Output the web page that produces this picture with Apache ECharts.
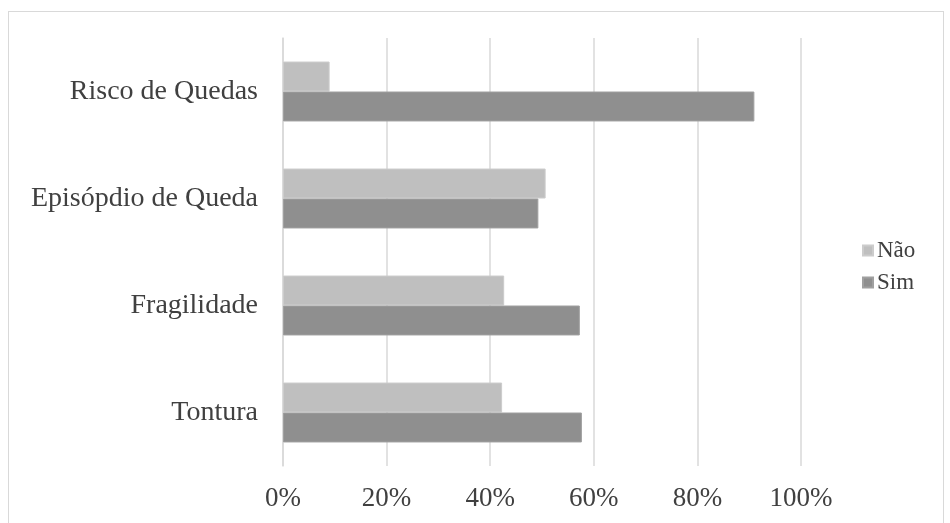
<!DOCTYPE html>
<html>
<head>
<meta charset="utf-8">
<script src="https://cdn.jsdelivr.net/npm/echarts@6/dist/echarts.min.js"></script>
<style>
html,body{margin:0;padding:0;background:#fff;}
#frame{position:absolute;left:8px;top:11px;width:936px;height:520px;border:1px solid #d9d9d9;box-sizing:border-box;}
#chart{position:absolute;left:0;top:0;width:950px;height:523px;}
</style>
</head>
<body>
<div id="frame"></div>
<div id="chart"></div>
<script>
var categories = ['Tontura', 'Fragilidade', 'Episópdio de Queda', 'Risco de Quedas'];
var seriesNames = ['Não', 'Sim'];
var naoValues = [42.3, 42.7, 50.7, 9.0];
var simValues = [57.7, 57.3, 49.3, 91.0];
var xTicks = [0, 20, 40, 60, 80, 100];

var textColor = '#404040';
var font = 'Liberation Serif';

var chart = echarts.init(document.getElementById('chart'));
chart.setOption({
  animation: false,
  backgroundColor: 'transparent',
  grid: { left: 283, right: 149, top: 38, bottom: 57 },
  legend: {
    data: seriesNames,
    orient: 'vertical',
    left: 857,
    top: 234,
    itemWidth: 10,
    itemHeight: 10,
    itemGap: 9,
    icon: 'rect',
    textStyle: { fontFamily: font, fontSize: 23, color: textColor, padding: [0, 0, 0, -1] }
  },
  xAxis: {
    type: 'value',
    min: xTicks[0],
    max: xTicks[xTicks.length - 1],
    interval: 20,
    axisLine: { show: false },
    axisTick: { show: false },
    splitLine: { lineStyle: { color: '#d9d9d9', width: 1.5 } },
    axisLabel: {
      formatter: function (v) { return v + '%'; },
      fontFamily: font, fontSize: 27, color: textColor, margin: 19
    }
  },
  yAxis: {
    type: 'category',
    data: categories,
    axisLine: { show: true, lineStyle: { color: '#d9d9d9', width: 1.5 } },
    axisTick: { show: false },
    axisLabel: { fontFamily: font, fontSize: 28, color: textColor, margin: 25 }
  },
  series: [
    {
      name: 'Não', type: 'bar', data: naoValues,
      barGap: '0%', barCategoryGap: '44%',
      itemStyle: { color: '#bfbfbf', borderColor: '#cccccc', borderWidth: 1 }
    },
    {
      name: 'Sim', type: 'bar', data: simValues,
      barGap: '0%', barCategoryGap: '44%',
      itemStyle: { color: '#8f8f8f', borderColor: '#a0a0a0', borderWidth: 1 }
    }
  ]
});
</script>
</body>
</html>
